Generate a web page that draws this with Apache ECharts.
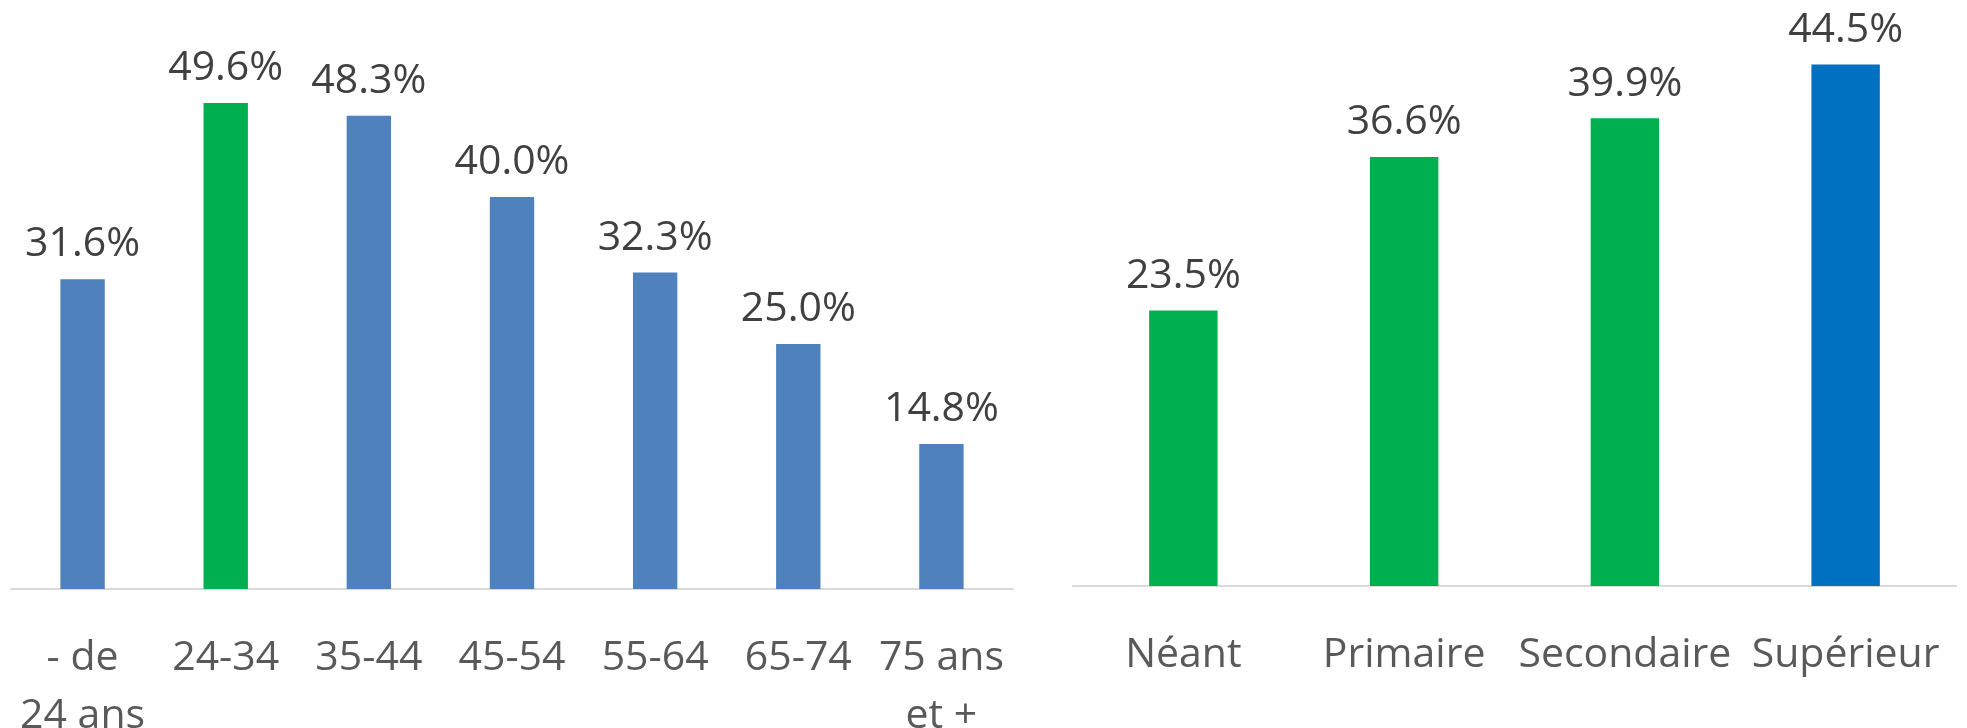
<!DOCTYPE html>
<html>
<head>
<meta charset="utf-8">
<script src="https://cdn.jsdelivr.net/npm/echarts@6/dist/echarts.min.js"></script>
<style>
  html, body { margin: 0; padding: 0; background: #fff; }
  #main { width: 1967px; height: 728px; }
</style>
</head>
<body>
<div id="main"></div>
<script>
// tranches d'age
const ageCategories = ['- de\n24 ans', '24-34', '35-44', '45-54', '55-64', '65-74', '75 ans\net +'];
const ageValues = [31.6, 49.6, 48.3, 40.0, 32.3, 25.0, 14.8];
// niveau d'instruction
const eduCategories = ['Néant', 'Primaire', 'Secondaire', 'Supérieur'];
const eduValues = [23.5, 36.6, 39.9, 44.5];

const FONT = '"Open Sans", "Noto Sans", sans-serif';
const BLUE = '#4F81BD', GREEN = '#00B050', DARKBLUE = '#0070C0';

let chart = echarts.init(document.getElementById('main'));

let labelTop = {
  show: true,
  position: 'top',
  distance: 14,
  color: '#404040',
  fontFamily: FONT,
  fontSize: 41,
  formatter: p => p.value.toFixed(1) + '%'
};

let catAxis = (idx, data) => ({
  type: 'category',
  gridIndex: idx,
  data: data,
  axisLine: { lineStyle: { color: '#D9D9D9', width: 2 } },
  axisTick: { show: false },
  axisLabel: {
    interval: 0,
    margin: 40,
    color: '#595959',
    fontFamily: FONT,
    fontSize: 41,
    lineHeight: 58
  }
});

let valAxis = (idx, max) => ({
  type: 'value',
  gridIndex: idx,
  min: 0,
  max: max,
  show: false,
  splitLine: { show: false }
});

chart.setOption({
  animation: false,
  grid: [
    { left: 11, width: 1002, top: 1, bottom: 139, outerBoundsMode: 'none', containLabel: false },
    { left: 1073, width: 883, top: 0, bottom: 142, outerBoundsMode: 'none', containLabel: false }
  ],
  xAxis: [catAxis(0, ageCategories), catAxis(1, eduCategories)],
  yAxis: [valAxis(0, 60), valAxis(1, 50)],
  series: [
    {
      type: 'bar',
      xAxisIndex: 0,
      yAxisIndex: 0,
      barWidth: '31%',
      data: ageValues,
      itemStyle: { color: p => p.name === '24-34' ? GREEN : BLUE },
      label: labelTop
    },
    {
      type: 'bar',
      xAxisIndex: 1,
      yAxisIndex: 1,
      barWidth: '31%',
      data: eduValues,
      itemStyle: { color: p => p.name === 'Supérieur' ? DARKBLUE : GREEN },
      label: labelTop
    }
  ]
});
</script>
</body>
</html>
